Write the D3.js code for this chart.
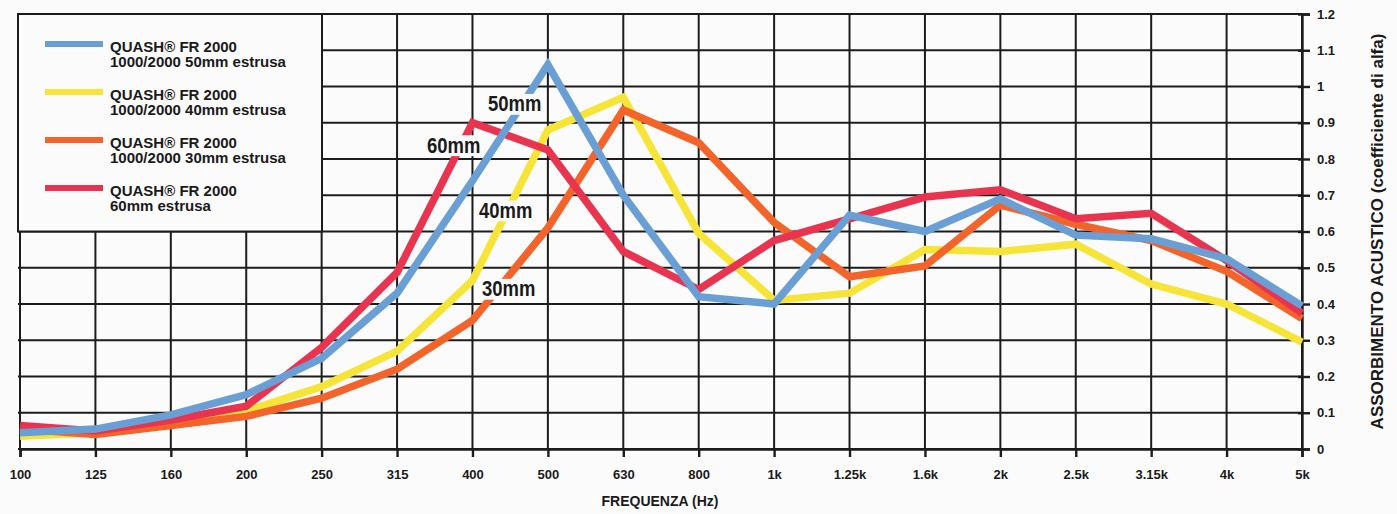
<!DOCTYPE html>
<html>
<head>
<meta charset="utf-8">
<script src="https://cdn.jsdelivr.net/npm/d3@7"></script>
<style>
  body { margin: 0; background: #fbfbfb; }
  svg { display: block; }
  text { font-family: "Liberation Sans Narrow", "Arial Narrow", "Liberation Sans", sans-serif; font-weight: bold; fill: #1a1a1a; }
</style>
</head>
<body>
<script>
// frequenze (Hz) e coefficiente di assorbimento
const freqs = ["100","125","160","200","250","315","400","500","630","800","1k","1.25k","1.6k","2k","2.5k","3.15k","4k","5k"];
const yTicks = [0,0.1,0.2,0.3,0.4,0.5,0.6,0.7,0.8,0.9,1,1.1,1.2];

const fr50 = [0.045,0.055,0.094,0.15,0.25,0.43,0.74,1.06,0.70,0.42,0.40,0.645,0.60,0.69,0.59,0.58,0.525,0.395];
const fr40 = [0.035,0.045,0.07,0.105,0.172,0.27,0.465,0.88,0.97,0.595,0.41,0.43,0.55,0.545,0.565,0.455,0.40,0.295];
const fr30 = [0.055,0.04,0.065,0.09,0.14,0.22,0.355,0.61,0.935,0.845,0.625,0.475,0.505,0.673,0.62,0.575,0.49,0.36];
const fr60 = [0.065,0.05,0.08,0.118,0.28,0.487,0.90,0.825,0.545,0.44,0.575,0.635,0.695,0.715,0.635,0.65,0.52,0.375];

const series = [
  { name: "40", values: fr40, color: "#f6e538", legend: ["QUASH® FR 2000", "1000/2000 40mm estrusa"], slot: 1 },
  { name: "30", values: fr30, color: "#f2642a", legend: ["QUASH® FR 2000", "1000/2000 30mm estrusa"], slot: 2 },
  { name: "60", values: fr60, color: "#e8344f", legend: ["QUASH® FR 2000", "60mm estrusa"], slot: 3 },
  { name: "50", values: fr50, color: "#6a9fd6", legend: ["QUASH® FR 2000", "1000/2000 50mm estrusa"], slot: 0 }
];

// etichette sulle curve (posizione in indice di frequenza / valore)
const curveLabels = [
  { text: "50mm", i: 6.56, v: 0.953 },
  { text: "60mm", i: 5.75, v: 0.839 },
  { text: "40mm", i: 6.44, v: 0.659 },
  { text: "30mm", i: 6.48, v: 0.443 }
];

const W = 1397, H = 514;
const svg = d3.select("body").append("svg").attr("width", W).attr("height", H);

const x = d3.scalePoint().domain(freqs).range([20, 1302]);
const xi = d3.scaleLinear().domain([0, freqs.length - 1]).range([20, 1302]);
const y = d3.scaleLinear().domain([0, 1.2]).range([449, 14]);

const ink = "#1c1c1c";

// griglia
svg.append("g").selectAll("line.h").data(yTicks).join("line")
  .attr("x1", 18).attr("x2", 1302)
  .attr("y1", d => y(d)).attr("y2", d => y(d))
  .attr("stroke", ink).attr("stroke-width", 2);

svg.append("g").selectAll("line.v").data(freqs).join("line")
  .attr("x1", d => x(d)).attr("x2", d => x(d))
  .attr("y1", y(1.2)).attr("y2", y(0))
  .attr("stroke", ink).attr("stroke-width", 2);

// asse destro
const yAxis = svg.append("g")
  .attr("transform", `translate(${x("5k")},0)`)
  .call(d3.axisRight(y).tickValues(yTicks).tickSize(8).tickPadding(7).tickFormat(d => d3.format("~g")(d)));
yAxis.select(".domain").attr("stroke", ink).attr("stroke-width", 2.4);
yAxis.selectAll(".tick line").attr("stroke", ink).attr("stroke-width", 2.4).attr("x1", -4);
yAxis.selectAll(".tick text").style("font-size", "13px").attr("fill", ink);

// asse inferiore
const xAxis = svg.append("g")
  .attr("transform", `translate(0,${y(0)})`)
  .call(d3.axisBottom(x).tickSize(8).tickPadding(13));
xAxis.select(".domain").attr("stroke", ink).attr("stroke-width", 2.4);
xAxis.selectAll(".tick line").attr("stroke", ink).attr("stroke-width", 2.4);
xAxis.selectAll(".tick text").style("font-size", "13px").attr("fill", ink);

svg.append("text")
  .attr("x", 660).attr("y", 506)
  .attr("text-anchor", "middle").style("font-size", "14px")
  .text("FREQUENZA (Hz)");

svg.append("text")
  .attr("transform", `translate(1383,${y(0.6)}) rotate(-90)`)
  .attr("text-anchor", "middle").style("font-size", "17px")
  .text("ASSORBIMENTO ACUSTICO (coefficiente di alfa)");

// curve
const line = d3.line().x((d, i) => x(freqs[i])).y(d => y(d)).curve(d3.curveLinear);
svg.append("g").selectAll("path").data(series).join("path")
  .attr("d", d => line(d.values))
  .attr("fill", "none")
  .attr("stroke", d => d.color)
  .attr("stroke-width", 7.5)
  .attr("stroke-linejoin", "miter");

// etichette curve con sfondo bianco
const lab = svg.append("g").selectAll("g").data(curveLabels).join("g")
  .attr("transform", d => `translate(${xi(d.i)},${y(d.v)}) scale(0.84,1)`);
lab.append("text")
  .attr("text-anchor", "middle").attr("dy", "0.36em")
  .style("font-size", "22px")
  .text(d => d.text);
lab.each(function() {
  const g = d3.select(this);
  const b = g.select("text").node().getBBox();
  g.insert("rect", "text")
    .attr("x", b.x - 2).attr("y", b.y + 2)
    .attr("width", b.width + 4).attr("height", b.height - 3)
    .attr("fill", "#fbfbfb");
});

// legenda
const lg = svg.append("g");
lg.append("rect")
  .attr("x", 18).attr("y", y(1.2))
  .attr("width", 304).attr("height", y(0.6) - y(1.2))
  .attr("fill", "#fbfbfb").attr("stroke", ink).attr("stroke-width", 2);

const items = lg.selectAll("g").data(series).join("g")
  .attr("transform", d => `translate(0,${44 + d.slot * 48})`);
items.append("line")
  .attr("x1", 45).attr("x2", 103).attr("y1", 0).attr("y2", 0)
  .attr("stroke", d => d.color).attr("stroke-width", 6);
items.append("text")
  .attr("x", 110).attr("y", 8).style("font-size", "15px")
  .text(d => d.legend[0]);
items.append("text")
  .attr("x", 110).attr("y", 23).style("font-size", "15px")
  .text(d => d.legend[1]);
</script>
</body>
</html>
